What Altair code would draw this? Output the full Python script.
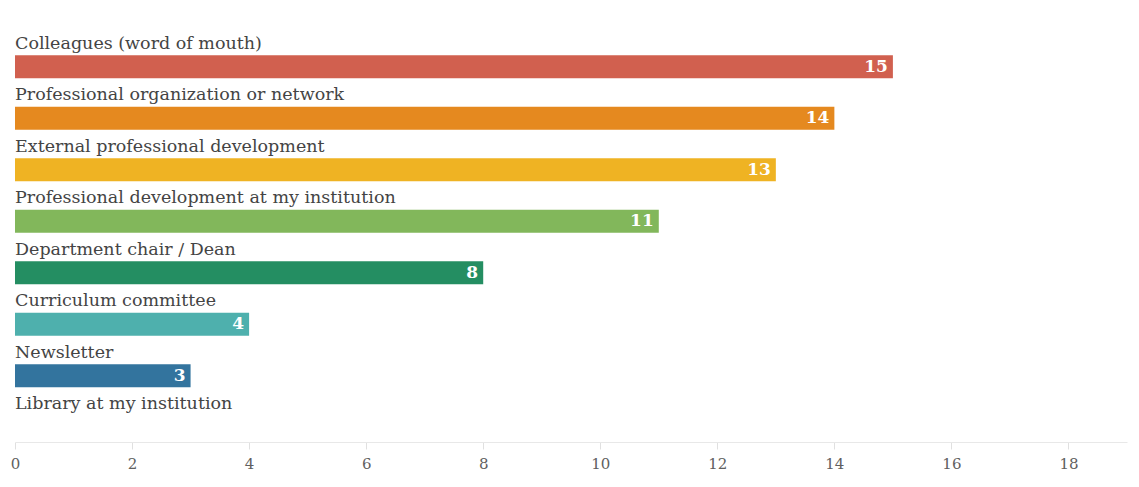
import altair as alt
import pandas as pd

categories = [
    "Colleagues (word of mouth)",
    "Professional organization or network",
    "External professional development",
    "Professional development at my institution",
    "Department chair / Dean",
    "Curriculum committee",
    "Newsletter",
    "Library at my institution",
]
values = [15, 14, 13, 11, 8, 4, 3, 0]
colors = ["#d1604f", "#e5891f", "#efb323", "#82b75b", "#248e62", "#4eb0ad", "#33749e", "#cccccc"]

df = pd.DataFrame({"cat": categories, "val": values, "col": colors})

FONT = "DejaVu Serif"

yenc = alt.Y("cat:N", sort=categories, axis=None,
             scale=alt.Scale(paddingInner=0, paddingOuter=0))

bars = alt.Chart(df).mark_bar(size=23, yOffset=11).encode(
    x=alt.X("val:Q", scale=alt.Scale(domain=[0, 19], nice=False),
            axis=alt.Axis(values=list(range(0, 19, 2)), format="d", grid=False,
                          domainColor="#e8e8e8", tickColor="#e0e0e0", tickSize=7,
                          labelFont=FONT, labelFontSize=15, labelColor="#606060",
                          labelPadding=7, title=None, labelFlush=False)),
    y=yenc,
    color=alt.Color("col:N", scale=None),
)

names = alt.Chart(df).mark_text(align="left", baseline="middle", dy=-12,
                                font=FONT, fontSize=17.5, color="#444444").encode(
    x=alt.value(0),
    y=yenc,
    text="cat:N",
)

vals = alt.Chart(df).transform_filter("datum.val > 0").mark_text(
    align="right", baseline="middle", dx=-5, dy=11, font=FONT, fontSize=17,
    fontWeight="bold", color="white").encode(
    x="val:Q",
    y=yenc,
    text="val:Q",
)

chart = alt.layer(bars, names, vals).properties(
    width=1112, height=412,
    autosize=alt.AutoSizeParams(type="none"),
    padding={"left": 7, "top": 22, "right": 4, "bottom": 40},
).configure_view(stroke=None)

chart.save("out.html", embed_options={"renderer": "svg", "actions": False})
